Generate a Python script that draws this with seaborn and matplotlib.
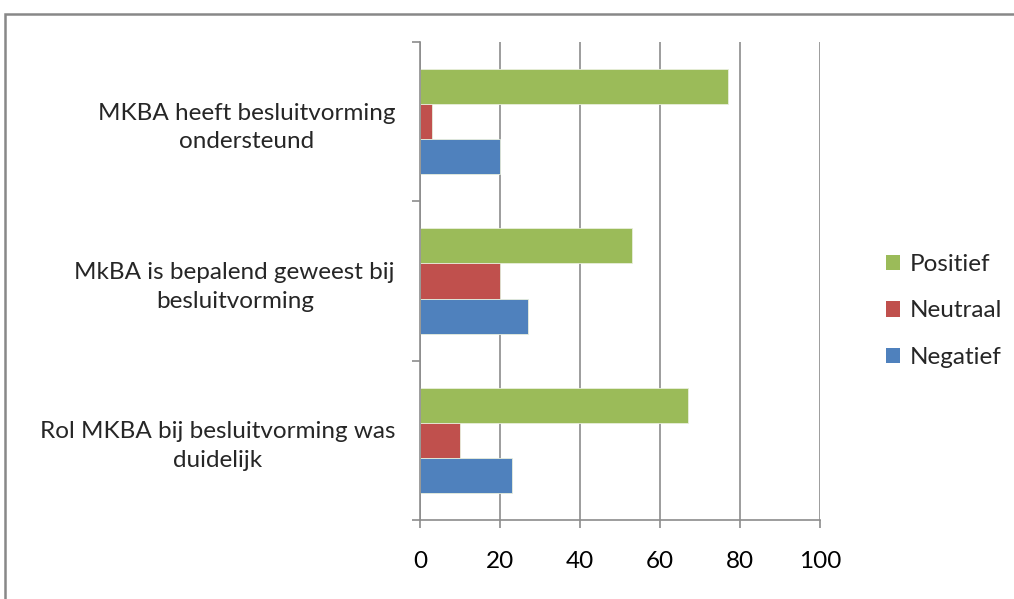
import matplotlib
matplotlib.use("Agg")
import matplotlib.pyplot as plt
import seaborn as sns
import pandas as pd
from matplotlib.patches import Rectangle, Patch

categories = ["MKBA heeft besluitvorming\nondersteund",
              "MkBA is bepalend geweest bij\nbesluitvorming",
              "Rol MKBA bij besluitvorming was\nduidelijk"]
series = ["Positief", "Neutraal", "Negatief"]
positief = [77, 53, 67]
neutraal = [3, 20, 10]
negatief = [20, 27, 23]
xticks = [0, 20, 40, 60, 80, 100]
colors = ["#9BBB59", "#C0504D", "#4F81BD"]

rows = []
for i, c in enumerate(categories):
    rows.append((c, "Positief", positief[i]))
    rows.append((c, "Neutraal", neutraal[i]))
    rows.append((c, "Negatief", negatief[i]))
df = pd.DataFrame(rows, columns=["cat", "serie", "val"])

sns.set_style("white")
plt.rcParams["font.family"] = ["Lato", "DejaVu Sans"]

FS = 17.5
fig = plt.figure(figsize=(10.14, 5.99), dpi=100)
ax = fig.add_axes([420/1014, 1-520/599, 400/1014, 478/599])

sns.barplot(data=df, y="cat", x="val", hue="serie", order=categories,
            hue_order=series, palette=colors, orient="h", width=0.66,
            gap=0, ax=ax, edgecolor="#e8eedc", linewidth=0.6, legend=False,
            saturation=1)

grid_c = "#8c8c8c"
ax.set_xlim(0, 100)
ax.set_ylim(2.5, -0.5)
ax.set_xticks(xticks)
ax.set_xticklabels([str(t) for t in xticks], fontsize=FS, color="#000000")
ax.xaxis.grid(True, color=grid_c, linewidth=1.2)
ax.set_axisbelow(True)
ax.tick_params(axis="x", direction="out", length=6, width=1.2, color=grid_c,
               pad=16, bottom=True)

ax.set_yticks([-0.5, 0.5, 1.5, 2.5])
ax.set_yticklabels([])
ax.set_yticks(range(len(categories)), minor=True)
ax.set_yticklabels(categories, minor=True, fontsize=FS, multialignment="center",
                   linespacing=1.45)
ax.tick_params(axis="y", which="major", direction="out", length=6, width=1.2,
               color=grid_c, left=True)
ax.tick_params(axis="y", which="minor", length=0, pad=18)
ax.set_xlabel("")
ax.set_ylabel("")

for s in ["top", "right"]:
    ax.spines[s].set_visible(False)
for s in ["left", "bottom"]:
    ax.spines[s].set_color(grid_c)
    ax.spines[s].set_linewidth(1.2)

handles = [Patch(facecolor=c, edgecolor="none", label=s) for c, s in zip(colors, series)]
fig.legend(handles=handles, loc="center left", bbox_to_anchor=(864/1014, 1-311/599),
           frameon=False, fontsize=FS, handlelength=0.6, handleheight=0.6,
           handletextpad=0.4, labelspacing=1.05)

fig.patches.append(Rectangle((5/1014, -0.1), 1.2, 1.1 - 14/599,
                             transform=fig.transFigure, fill=False,
                             edgecolor="#888888", linewidth=1.8))

fig.savefig("out.png", dpi=100)
